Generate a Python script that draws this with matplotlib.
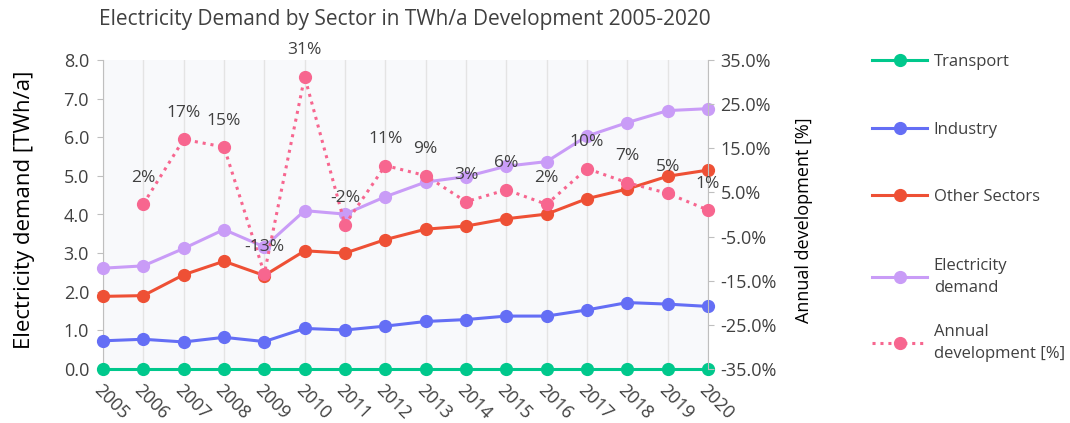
"""Electricity demand by sector 2005-2020, with annual development on a twin axis."""

import matplotlib

matplotlib.use("Agg")
import matplotlib.pyplot as plt
import numpy as np
from matplotlib.ticker import FixedLocator, FuncFormatter, MultipleLocator

YEARS = list(range(2005, 2021))
TRANSPORT = [0.0] * 16
INDUSTRY = [0.73, 0.77, 0.70, 0.82, 0.71, 1.05, 1.01, 1.11,
            1.23, 1.28, 1.37, 1.37, 1.53, 1.72, 1.68, 1.62]
OTHER = [1.88, 1.90, 2.44, 2.79, 2.42, 3.06, 3.00, 3.35,
         3.62, 3.70, 3.89, 4.01, 4.41, 4.66, 4.99, 5.15]
DEMAND = [2.61, 2.67, 3.12, 3.61, 3.16, 4.10, 4.01, 4.46,
          4.84, 4.98, 5.25, 5.37, 6.03, 6.38, 6.69, 6.74]
ANNUAL = [np.nan, 2.4, 17.0, 15.3, -13.4, 31.2, -2.3, 11.1,
          8.8, 2.9, 5.6, 2.3, 10.4, 7.2, 4.8, 1.0]  # % change

GREEN = "#00C88C"
BLUE = "#646EF5"
RED = "#EE5035"
PURPLE = "#C99CF7"
PINK = "#F7668F"
INK = "#404040"
AXIS = "#BFBFBF"

plt.rcParams.update({
    "font.family": ["Open Sans", "DejaVu Sans"],
    "text.color": INK,
    "xtick.color": INK,
    "ytick.color": INK,
})

W, H = 1070, 423
fig = plt.figure(figsize=(W / 100, H / 100), dpi=100)
ax = fig.add_axes([103 / W, 1 - 369 / H, 605 / W, 309 / H])
ax.set_facecolor("#F8F9FB")

series = [
    ("Transport", TRANSPORT, GREEN),
    ("Industry", INDUSTRY, BLUE),
    ("Other Sectors", OTHER, RED),
    ("Electricity\ndemand", DEMAND, PURPLE),
]
handles = []
for label, vals, color in series:
    (ln,) = ax.plot(YEARS, vals, color=color, lw=2.2, marker="o", ms=8.5,
                    label=label, clip_on=False, zorder=3)
    handles.append(ln)

ax.set_xlim(2005, 2020)
ax.set_ylim(0, 8)
ax.yaxis.set_major_locator(MultipleLocator(1))
ax.yaxis.set_major_formatter(FuncFormatter(lambda v, _: f"{v:.1f}"))
ax.set_xticks(YEARS)
ax.set_xticklabels([str(y) for y in YEARS], rotation=-45, ha="left",
                   va="top", rotation_mode="anchor", fontsize=13)
ax.tick_params(axis="x", length=0, pad=9)
ax.tick_params(axis="y", length=4, color=AXIS, labelsize=13, pad=6)
ax.grid(axis="x", color="#E4E4E4", lw=1)
ax.set_axisbelow(True)
for side in ("top", "bottom", "right"):
    ax.spines[side].set_visible(False)
ax.spines["left"].set_color(AXIS)
ax.set_ylabel("Electricity demand [TWh/a]", fontsize=16)
ax.yaxis.set_label_coords(-0.113, 0.515)

ax2 = ax.twinx()
(pl,) = ax2.plot(YEARS, ANNUAL, color=PINK, lw=2.2, ls=(0, (1, 1.6)),
                 marker="o", ms=8.5, label="Annual\ndevelopment [%]",
                 clip_on=False, zorder=4)
handles.append(pl)
ax2.set_ylim(-35, 35)
ax2.yaxis.set_major_locator(FixedLocator(np.arange(-35, 36, 10)))
ax2.yaxis.set_major_formatter(FuncFormatter(lambda v, _: f"{v:.1f}%"))
ax2.tick_params(axis="y", length=4, color=AXIS, labelsize=13, pad=5)
for side in ("top", "bottom", "left"):
    ax2.spines[side].set_visible(False)
ax2.spines["right"].set_color(AXIS)
ax2.set_ylabel("Annual development [%]", fontsize=13)
ax2.yaxis.set_label_coords(1.143, 0.482)

for x, v in zip(YEARS, ANNUAL):
    if np.isnan(v):
        continue
    ax2.annotate(f"{v:.0f}%", (x, v), xytext=(0, 19), textcoords="offset points",
                 ha="center", va="center", fontsize=12.5, color=INK, zorder=5)

fig.text(405 / W, 1 - 20 / H,
         "Electricity Demand by Sector in TWh/a Development 2005-2020",
         ha="center", va="center", fontsize=15, color=INK)

# one legend per entry so each slot sits where the reference has it
slots = [62, 130, 197, 277, 343]
for h, yc in zip(handles, slots):
    leg = fig.legend(handles=[h], labels=[h.get_label()], loc="center left",
                     bbox_to_anchor=(872 / W, 1 - yc / H), frameon=False,
                     fontsize=12, handlelength=3.3, handletextpad=0.4,
                     borderpad=0, borderaxespad=0)
    for t in leg.get_texts():
        t.set_linespacing(1.5)

fig.savefig("out.png", dpi=100)
